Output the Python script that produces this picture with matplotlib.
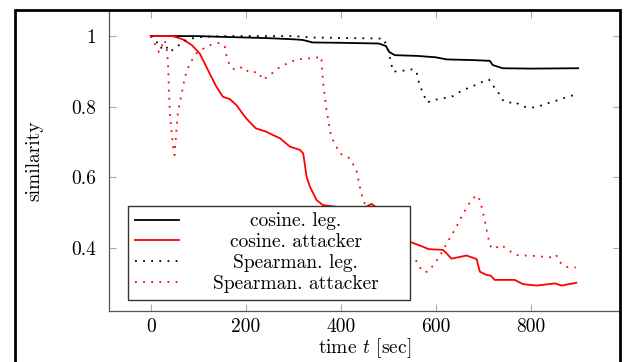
import matplotlib
matplotlib.use("Agg")
import matplotlib.pyplot as plt
from matplotlib.lines import Line2D

plt.rcParams["font.family"] = ["cmr10", "DejaVu Serif"]
plt.rcParams["mathtext.fontset"] = "cm"
plt.rcParams["axes.unicode_minus"] = False

# cosine similarity, legitimate user
cos_leg_t = [0, 100, 145, 200, 250, 300, 320, 335, 340, 400, 480, 495, 502, 514,
             560, 600, 623, 680, 714, 720, 741, 800, 900]
cos_leg = [1.0, 1.0, 0.998, 0.996, 0.994, 0.991, 0.989, 0.984, 0.982, 0.981, 0.979,
           0.972, 0.955, 0.946, 0.944, 0.940, 0.934, 0.932, 0.930, 0.918, 0.909,
           0.908, 0.909]

# cosine similarity, attacker
cos_att_t = [0, 46, 67, 86, 103, 124, 138, 152, 166, 180, 201, 221, 244, 257, 272,
             293, 314, 321, 328, 335, 349, 362, 400, 440, 455, 465, 475, 500, 545,
             573, 585, 615, 623, 633, 665, 686, 693, 707, 716, 724, 766, 784, 812,
             851, 865, 896]
cos_att = [1.0, 1.0, 0.991, 0.975, 0.951, 0.894, 0.857, 0.828, 0.822, 0.805, 0.767,
           0.739, 0.729, 0.720, 0.711, 0.687, 0.678, 0.668, 0.602, 0.574, 0.536,
           0.522, 0.515, 0.512, 0.518, 0.525, 0.515, 0.48, 0.418, 0.404, 0.397,
           0.395, 0.385, 0.370, 0.379, 0.369, 0.333, 0.324, 0.322, 0.310, 0.310,
           0.298, 0.294, 0.300, 0.294, 0.302]

# Spearman correlation, legitimate user
spr_leg_t = [0, 10, 20, 30, 40, 50, 60, 75, 100, 150, 300, 340, 490, 500, 510, 525,
             540, 555, 560, 565, 572, 582, 596, 623, 636, 657, 676, 699, 712, 720,
             731, 741, 752, 768, 777, 792, 804, 821, 836, 851, 878, 895]
spr_leg = [1.0, 0.99, 0.965, 0.975, 0.955, 0.965, 0.975, 0.99, 0.997, 1.0, 1.0,
           0.996, 0.993, 0.96, 0.90, 0.90, 0.905, 0.906, 0.895, 0.866, 0.842, 0.812,
           0.819, 0.826, 0.830, 0.847, 0.857, 0.871, 0.877, 0.861, 0.842, 0.819,
           0.811, 0.814, 0.804, 0.798, 0.798, 0.803, 0.810, 0.816, 0.828, 0.835]

# Spearman correlation, attacker
spr_att_t = [0, 5, 12, 17, 24, 29, 33, 36, 38, 40, 44, 47, 50, 54, 57, 65, 72, 82,
             96, 117, 131, 145, 156, 159, 166, 177, 194, 208, 226, 236, 251, 268,
             293, 321, 342, 359, 363, 370, 380, 398, 419, 433, 440, 447, 460, 500,
             530, 549, 556, 563, 573, 584, 598, 608, 623, 644, 658, 675, 686, 693,
             703, 710, 717, 724, 738, 752, 770, 805, 840, 853, 861, 872, 889, 895]
spr_att = [1.0, 0.985, 0.97, 0.955, 0.975, 0.989, 0.97, 0.927, 0.857, 0.781, 0.725,
           0.687, 0.663, 0.734, 0.781, 0.838, 0.885, 0.923, 0.951, 0.97, 0.977,
           0.981, 0.97, 0.946, 0.918, 0.904, 0.913, 0.896, 0.899, 0.876, 0.89,
           0.909, 0.927, 0.937, 0.937, 0.942, 0.866, 0.791, 0.715, 0.668, 0.654,
           0.621, 0.574, 0.536, 0.50, 0.42, 0.38, 0.371, 0.372, 0.352, 0.333, 0.333,
           0.357, 0.376, 0.413, 0.461, 0.498, 0.536, 0.550, 0.536, 0.48, 0.432,
           0.399, 0.399, 0.409, 0.395, 0.380, 0.378, 0.374, 0.382, 0.361, 0.347,
           0.346, 0.345]

x_ticks = [0, 200, 400, 600, 800]
y_ticks = [0.4, 0.6, 0.8, 1.0]
y_tick_labels = ["0.4", "0.6", "0.8", "1"]

W, H = 628, 362
fig = plt.figure(figsize=(W / 100, H / 100), dpi=100)
ax = fig.add_axes([109 / W, 1 - 311 / H, 511 / W, 300 / H])

dots = (0, (1, 3.5))
ax.plot(cos_leg_t, cos_leg, color="black", lw=1.3, label="cosine. leg.")
ax.plot(cos_att_t, cos_att, color="red", lw=1.3, label="cosine. attacker")
ax.plot(spr_leg_t, spr_leg, color="black", lw=1.3, ls=dots, label="Spearman. leg.")
ax.plot(spr_att_t, spr_att, color="red", lw=1.3, ls=dots, label="Spearman. attacker")

ax.set_xlim(-88, 988)
ax.set_ylim(0.222, 1.071)
ax.set_xticks(x_ticks)
ax.set_yticks(y_ticks)
ax.set_yticklabels(y_tick_labels)
ax.tick_params(direction="in", length=5, width=0.8, color="#aaaaaa",
               labelsize=14, top=True, right=True)
ax.tick_params(axis="y", pad=9)
ax.tick_params(axis="x", pad=5)
for s in ["left", "bottom"]:
    ax.spines[s].set_color("#555555")
    ax.spines[s].set_linewidth(0.9)
for s in ["top", "right"]:
    ax.spines[s].set_visible(False)

ax.set_xlabel(r"time $t$ [sec]", fontsize=14, labelpad=0)
ax.set_ylabel("similarity", fontsize=14, labelpad=20)

leg = ax.legend(loc="lower left", bbox_to_anchor=(0.037, 0.037, 0.552, 0.3),
                mode="expand", fontsize=14, fancybox=False, framealpha=1,
                edgecolor="#333333", handlelength=2.3, handletextpad=0.4,
                borderpad=0.35, labelspacing=0.15, borderaxespad=0)
leg.get_frame().set_linewidth(1.0)

# outer frame of the original page crop
ax_l, ax_b, ax_w, ax_h = ax.get_position().bounds
fig.add_artist(Line2D([15 / W, 15 / W, ax_l + ax_w, ax_l + ax_w],
                      [-0.05, 1 - 10 / H, 1 - 10 / H, -0.05],
                      transform=fig.transFigure, color="black", lw=2.0,
                      solid_joinstyle="miter"))

# center legend labels in their column, as pgfplots does
fig.canvas.draw()
frame_bb = leg.get_frame().get_window_extent()
texts = leg.get_texts()
bbs = [t.get_window_extent() for t in texts]
col_left = min(b.x0 for b in bbs)
center = (col_left + frame_bb.x1 - 6) / 2
for t, b in zip(texts, bbs):
    t.set_x(center - (b.x0 + b.x1) / 2)

fig.savefig("out.png", dpi=100)
